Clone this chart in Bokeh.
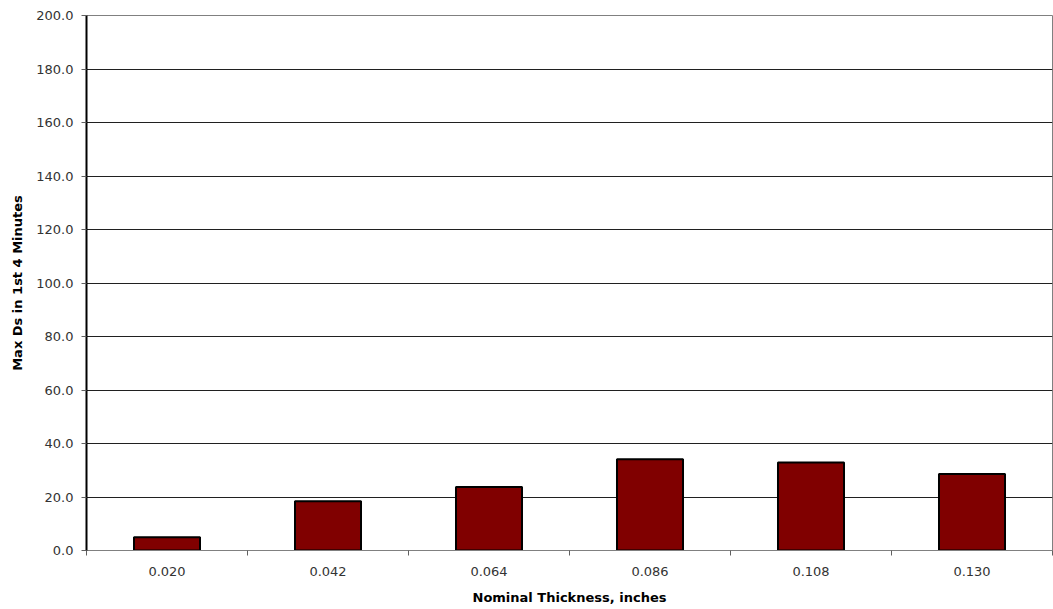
import numpy as np
from bokeh.plotting import figure
from bokeh.models import FixedTicker, Range1d, NumeralTickFormatter, ColumnDataSource
from bokeh.embed import file_html
from bokeh.resources import INLINE

# Smoke density results by specimen thickness
thickness_labels = ["0.020", "0.042", "0.064", "0.086", "0.108", "0.130"]
max_ds_values = [5.0, 18.4, 23.7, 34.1, 32.9, 28.6]
y_ticks = [0, 20, 40, 60, 80, 100, 120, 140, 160, 180, 200]

n = len(thickness_labels)
centers = np.arange(n) + 0.5

source = ColumnDataSource(dict(x=centers, top=max_ds_values, label=thickness_labels))

p = figure(
    width=1053, height=609,
    x_range=Range1d(0, n), y_range=Range1d(0, 200),
    output_backend="svg", toolbar_location=None,
    min_border_left=86, min_border_right=1, min_border_top=15, min_border_bottom=59,
)
p.background_fill_color = "white"
p.border_fill_color = "white"
p.outline_line_color = "#808080"
p.outline_line_width = 1

p.vbar(x="x", top="top", width=0.41, bottom=0, source=source,
       fill_color="#800000", line_color="black", line_width=2)

# category labels at bar centres, tick marks at the category boundaries
xt = FixedTicker(ticks=list(centers), minor_ticks=list(range(n + 1)))
p.xaxis.ticker = xt
p.xaxis.major_label_overrides = {float(c): lab for c, lab in zip(centers, thickness_labels)}
p.xaxis.major_tick_line_color = None
p.xaxis.minor_tick_line_color = "#606060"
p.xaxis.minor_tick_in = 0
p.xaxis.minor_tick_out = 5
p.xaxis.axis_line_color = "#808080"
p.xaxis.axis_line_width = 1
p.xaxis.major_label_standoff = 10
p.xaxis.axis_label = "Nominal Thickness, inches"
p.xaxis.axis_label_standoff = 11
p.xgrid.grid_line_color = None

p.yaxis.ticker = FixedTicker(ticks=y_ticks)
p.yaxis.formatter = NumeralTickFormatter(format="0.0")
p.yaxis.axis_line_color = "black"
p.yaxis.axis_line_width = 2
p.yaxis.major_tick_line_color = "#606060"
p.yaxis.major_tick_in = 0
p.yaxis.major_tick_out = 5
p.yaxis.minor_tick_line_color = None
p.yaxis.major_label_standoff = 8
p.yaxis.axis_label = "Max Ds in 1st 4 Minutes"
p.yaxis.axis_label_standoff = 8
p.ygrid.grid_line_color = "#202020"
p.ygrid.grid_line_width = 1

for ax in (p.xaxis, p.yaxis):
    ax.major_label_text_font = "DejaVu Sans"
    ax.major_label_text_font_size = "13px"
    ax.major_label_text_color = "#333333"
    ax.axis_label_text_font = "DejaVu Sans"
    ax.axis_label_text_font_size = "13px"
    ax.axis_label_text_font_style = "bold"
    ax.axis_label_text_color = "black"

open("out.html", "w").write(file_html(p, INLINE))
